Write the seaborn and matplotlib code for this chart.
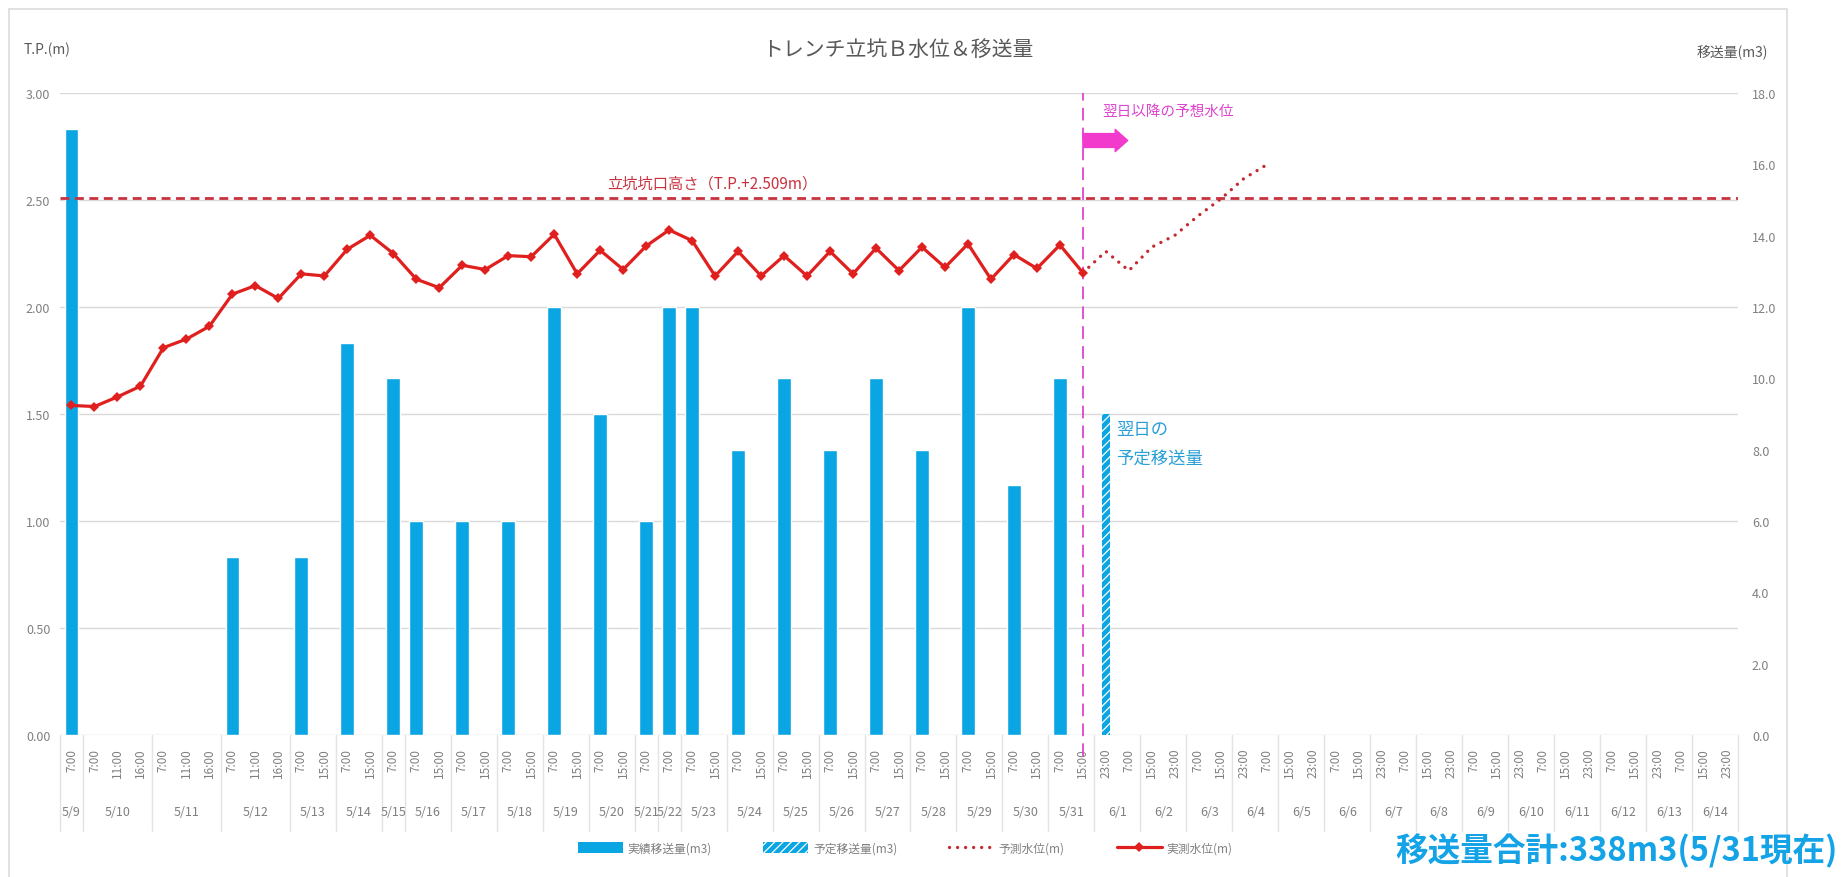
import numpy as np
import pandas as pd
import matplotlib
matplotlib.use("Agg")
import matplotlib.pyplot as plt
import matplotlib.transforms as mtransforms
from matplotlib.patches import Patch, Rectangle
from matplotlib.lines import Line2D
import seaborn as sns

# ---- data -------------------------------------------------------------
day_labels = ["5/9", "5/10", "5/11", "5/12", "5/13", "5/14", "5/15", "5/16",
              "5/17", "5/18", "5/19", "5/20", "5/21", "5/22", "5/23", "5/24",
              "5/25", "5/26", "5/27", "5/28", "5/29", "5/30", "5/31",
              "6/1", "6/2", "6/3", "6/4", "6/5", "6/6", "6/7", "6/8", "6/9",
              "6/10", "6/11", "6/12", "6/13", "6/14"]
day_times = [["7:00"], ["7:00", "11:00", "16:00"], ["7:00", "11:00", "16:00"],
             ["7:00", "11:00", "16:00"], ["7:00", "15:00"], ["7:00", "15:00"],
             ["7:00"], ["7:00", "15:00"], ["7:00", "15:00"], ["7:00", "15:00"],
             ["7:00", "15:00"], ["7:00", "15:00"], ["7:00"], ["7:00"],
             ["7:00", "15:00"], ["7:00", "15:00"], ["7:00", "15:00"],
             ["7:00", "15:00"], ["7:00", "15:00"], ["7:00", "15:00"],
             ["7:00", "15:00"], ["7:00", "15:00"], ["7:00", "15:00"],
             ["23:00", "7:00"], ["15:00", "23:00"], ["7:00", "15:00"],
             ["23:00", "7:00"], ["15:00", "23:00"], ["7:00", "15:00"],
             ["23:00", "7:00"], ["15:00", "23:00"], ["7:00", "15:00"],
             ["23:00", "7:00"], ["15:00", "23:00"], ["7:00", "15:00"],
             ["23:00", "7:00"], ["15:00", "23:00"]]

# measured water level T.P.(m), one value per slot up to 5/31 15:00
level_measured = [1.54, 1.535, 1.58, 1.63, 1.81, 1.85, 1.91, 2.06, 2.10, 2.04,
                  2.155, 2.145, 2.27, 2.335, 2.25, 2.13, 2.09, 2.195, 2.175,
                  2.24, 2.235, 2.34, 2.155, 2.265, 2.175, 2.285, 2.36, 2.31,
                  2.145, 2.26, 2.145, 2.24, 2.145, 2.26, 2.155, 2.275, 2.17,
                  2.28, 2.185, 2.295, 2.13, 2.245, 2.18, 2.29, 2.16]
# forecast water level, starting at the last measured slot
forecast_level = [2.16, 2.26, 2.17, 2.28, 2.335, 2.425, 2.505, 2.60, 2.665]
forecast_start = 44

nan = np.nan
# actual transfer volume (m3) per slot
transfer_actual = [17, nan, nan, nan, nan, nan, nan, 5, nan, nan, 5, nan, 11,
                   nan, 10, 6, nan, 6, nan, 6, nan, 12, nan, 9, nan, 6, 12, 12,
                   nan, 8, nan, 10, nan, 8, nan, 10, nan, 8, nan, 12, nan, 7,
                   nan, 10, nan]
transfer_planned = [9.0]
planned_slot = 45

shaft_top_level = 2.509
level_ticks = [0.0, 0.5, 1.0, 1.5, 2.0, 2.5, 3.0]
transfer_ticks = [0, 2, 4, 6, 8, 10, 12, 14, 16, 18]

# ---- styling ----------------------------------------------------------
BLUE = "#0aa6e3"
RED = "#e0201e"
FC_RED = "#c42a30"
LINE_RED = "#c8323f"
MAGENTA = "#dd44cf"
ARROW_MAG = "#f23bcc"
GRAY = "#808080"
GRID = "#d9d9d9"

sns.set_theme(style="white")
plt.rcParams["font.family"] = ["Noto Sans CJK JP", "DejaVu Sans"]
plt.rcParams["hatch.linewidth"] = 0.9

W, H = 1849, 878
fig = plt.figure(figsize=(W / 100, H / 100), dpi=100)
fig.patch.set_facecolor("white")

ax_l, ax_r, ax_t, ax_b = 60, 1738, 94, 736
axb = fig.add_axes([ax_l / W, 1 - ax_b / H, (ax_r - ax_l) / W, (ax_b - ax_t) / H])
axl = axb.twinx()
axl.set_zorder(axb.get_zorder() + 1)
axl.patch.set_visible(False)

time_labels = [t for times in day_times for t in times]
slots = list(range(len(time_labels)))

# ---- transfer bars (right scale) --------------------------------------
bars = pd.DataFrame({"slot": slots[:len(transfer_actual)], "m3": transfer_actual}).dropna()
sns.barplot(data=bars, x="slot", y="m3", order=slots, color=BLUE, saturation=1,
            width=0.6, errorbar=None, ax=axb, zorder=2)

planned = pd.DataFrame({"slot": [planned_slot], "m3": transfer_planned})
sns.barplot(data=planned, x="slot", y="m3", order=slots, color=BLUE, saturation=1,
            width=0.33, errorbar=None, ax=axb, zorder=2)
for p in axb.containers[-1]:
    p.set_hatch("////")
    p.set_edgecolor("white")
    p.set_linewidth(0)

# ---- water level lines (left scale) -----------------------------------
meas = pd.DataFrame({"slot": slots[:len(level_measured)], "level": level_measured})
sns.lineplot(data=meas, x="slot", y="level", ax=axl, color=RED, linewidth=2.3,
             marker="D", markersize=5, markeredgewidth=0, zorder=4)

fc = pd.DataFrame({"slot": slots[forecast_start:forecast_start + len(forecast_level)],
                   "level": forecast_level})
sns.lineplot(data=fc, x="slot", y="level", ax=axl, color=FC_RED, linewidth=2.4,
             linestyle=(0, (0.01, 2.4)), dash_capstyle="round", zorder=3)

axl.axhline(shaft_top_level, color=LINE_RED, linewidth=2.0,
            linestyle=(0, (3.2, 2.0)), zorder=3)

# ---- axes limits, ticks, grid -----------------------------------------
axl.set_ylim(level_ticks[0], level_ticks[-1])
axb.set_ylim(transfer_ticks[0], transfer_ticks[-1])
axb.set_xlim(-0.5, len(slots) - 0.5)
scale = transfer_ticks[-1] / level_ticks[-1]
for v in level_ticks:
    axb.axhline(v * scale, color=GRID, linewidth=1.0, zorder=0)

axb.set_xticks(slots, labels=time_labels, rotation=90)
axb.tick_params(axis="x", length=0, pad=9, labelsize=8.5, labelcolor=GRAY)
axb.yaxis.tick_right()
axb.set_yticks(transfer_ticks, labels=[f"{v:.1f}" for v in transfer_ticks])
axb.tick_params(axis="y", length=0, pad=10, labelsize=9, labelcolor=GRAY)
axl.yaxis.tick_left()
axl.set_yticks(level_ticks, labels=[f"{v:.2f}" for v in level_ticks])
axl.tick_params(axis="y", length=0, pad=7, labelsize=9, labelcolor=GRAY)
for a in (axb, axl):
    a.set_xlabel("")
    a.set_ylabel("")
    for s in a.spines.values():
        s.set_visible(False)
    if a.get_legend() is not None:
        a.get_legend().remove()

# ---- date row under the time labels -----------------------------------
tr = mtransforms.blended_transform_factory(axb.transData, axb.transAxes)
edge = -0.5
sep_bottom = -(832 - ax_b) / (ax_b - ax_t)
axb.plot([edge, edge], [0, sep_bottom], transform=tr, color="#e3e3e3", lw=1, clip_on=False)
for day, times in zip(day_labels, day_times):
    start, end = edge, edge + len(times)
    axb.text((start + end) / 2, -(813 - ax_b) / (ax_b - ax_t), day, transform=tr,
             ha="center", va="center", fontsize=9, color=GRAY)
    axb.plot([end, end], [0, sep_bottom], transform=tr, color="#e3e3e3", lw=1,
             clip_on=False)
    edge = end

# ---- forecast marker line and annotations -----------------------------
axb.axvline(forecast_start, ymin=-(757 - ax_b) / (ax_b - ax_t), ymax=1,
            color=MAGENTA, linewidth=1.3, linestyle=(0, (7, 4)), clip_on=False,
            zorder=5)
axl.text(forecast_start + 0.85, 2.915, "翌日以降の予想水位", color=MAGENTA,
         fontsize=10.5, ha="left", va="center")
axl.annotate("", xy=(forecast_start + 1.95, 2.778), xytext=(forecast_start, 2.778),
             arrowprops=dict(arrowstyle="simple,head_length=0.45,head_width=0.8,tail_width=0.5",
                             color=ARROW_MAG, shrinkA=0, shrinkB=0, mutation_scale=20))
axl.text(27.9, shaft_top_level + 0.03, "立坑坑口高さ（T.P.+2.509m）", color=LINE_RED,
         fontsize=11, ha="center", va="bottom")
axl.text(planned_slot + 0.45, 1.47, "翌日の\n予定移送量", color="#2a9fd6",
         fontsize=12.5, ha="left", va="top", linespacing=1.7)

# ---- titles and axis captions -----------------------------------------
fig.text(898 / W, 1 - 50 / H, "トレンチ立坑Ｂ水位＆移送量", ha="center", va="center",
         fontsize=15, color="#595959")
fig.text(24 / W, 1 - 50 / H, "T.P.(m)", ha="left", va="center", fontsize=10,
         color="#595959")
fig.text(1768 / W, 1 - 52 / H, "移送量(m3)", ha="right", va="center", fontsize=10,
         color="#595959")

# ---- legend -----------------------------------------------------------
handles = [Patch(facecolor=BLUE, edgecolor="none"),
           Patch(facecolor=BLUE, edgecolor="white", hatch="////", linewidth=0),
           Line2D([], [], color=FC_RED, lw=2.4, linestyle=(0, (0.01, 2.4)),
                  dash_capstyle="round"),
           Line2D([], [], color=RED, lw=2.3, marker="D", markersize=5,
                  markeredgewidth=0)]
labels = ["実績移送量(m3)", "予定移送量(m3)", "予測水位(m)", "実測水位(m)"]
fig.legend(handles, labels, loc="center", bbox_to_anchor=(905 / W, 1 - 849 / H),
           ncol=4, frameon=False, fontsize=8.5, handlelength=3.8, handleheight=1.0,
           columnspacing=4.4, handletextpad=0.4, labelcolor=GRAY)

fig.text(1838 / W, 1 - 851 / H, "移送量合計:338m3(5/31現在)", ha="right", va="center",
         fontsize=23.5, fontweight="bold", color="#13a3e6")

# chart frame
fig.add_artist(Rectangle((9 / W, -0.01), (1787 - 9) / W, (H - 10) / H + 0.01,
                         transform=fig.transFigure, fill=False,
                         edgecolor="#dcdcdc", linewidth=1.2, zorder=0))

fig.savefig("out.png", dpi=100, facecolor="white")
